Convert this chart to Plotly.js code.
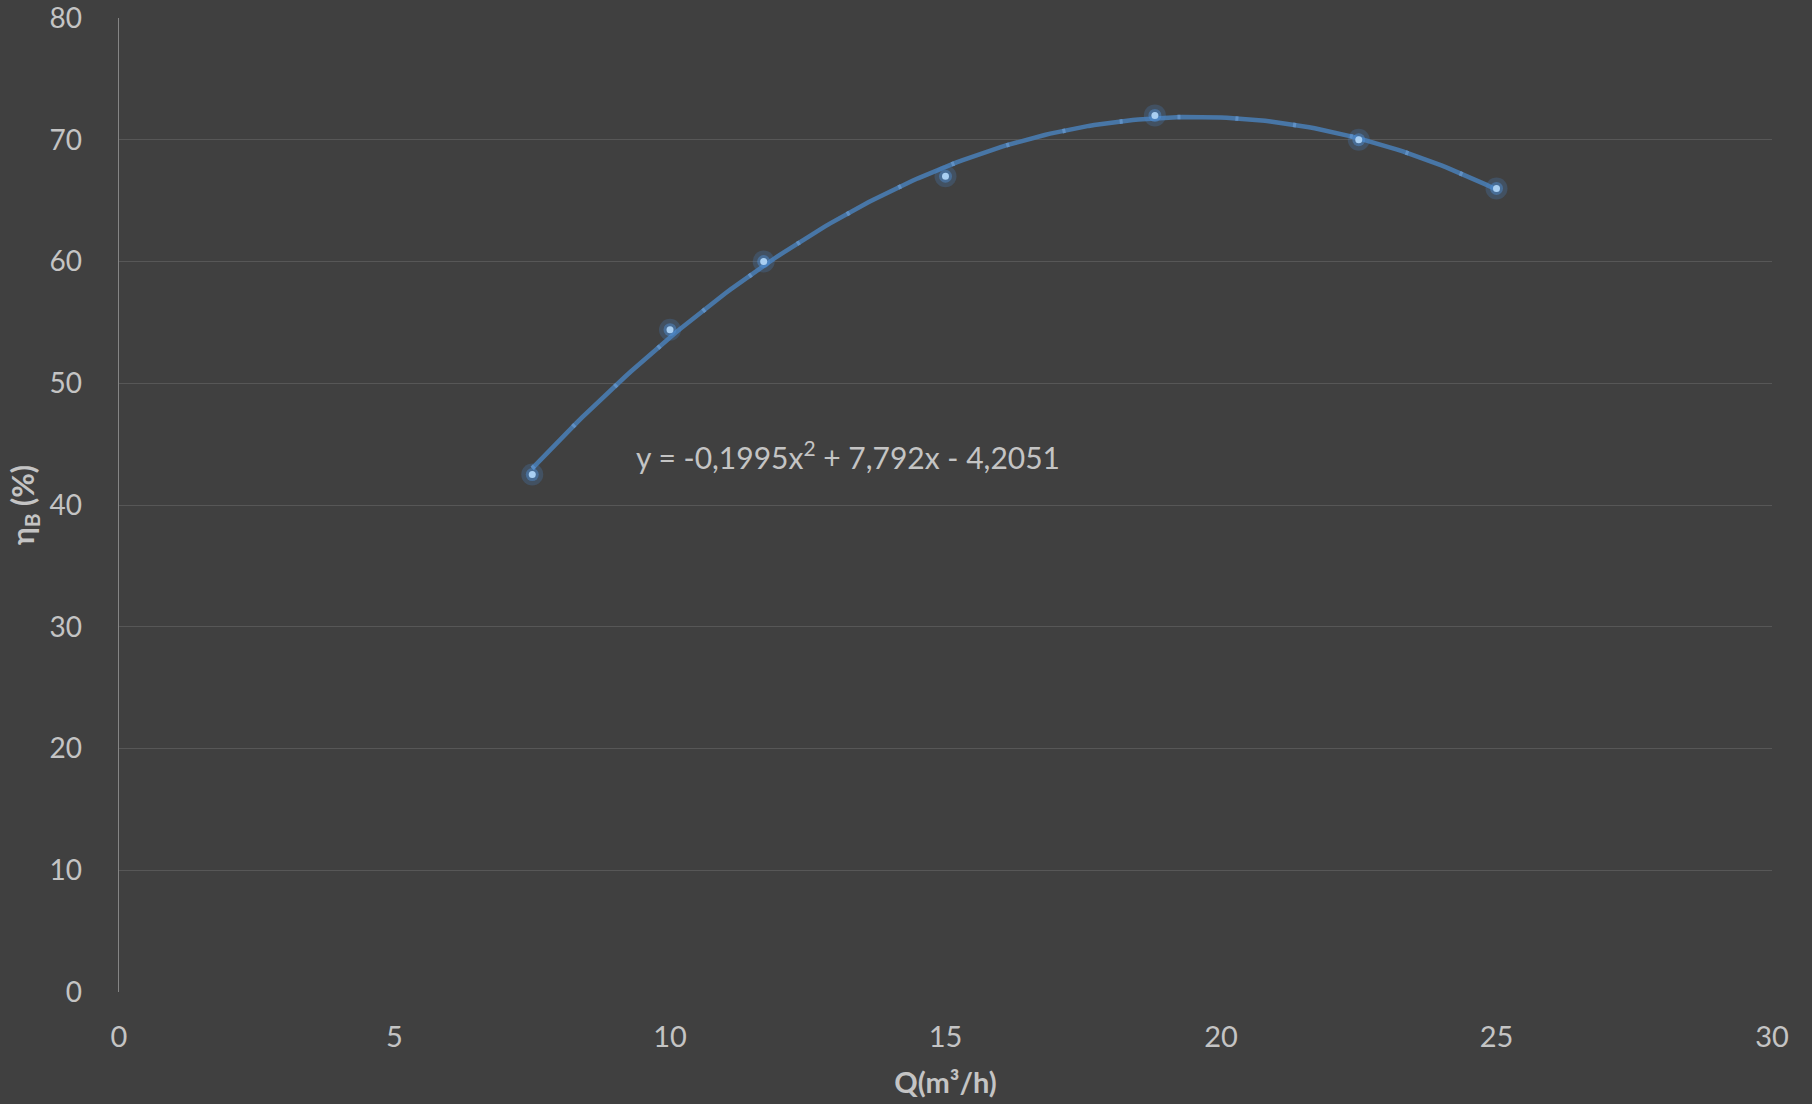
<!DOCTYPE html>
<html>
<head>
<meta charset="utf-8">
<script src="https://cdn.plot.ly/plotly-3.0.1.min.js"></script>
<style>html,body{margin:0;padding:0;background:#404040;}#chart{width:1812px;height:1104px;}</style>
</head>
<body>
<div id="chart"></div>
<script>
// Measured points
const flowQ = [7.5, 10, 11.7, 15, 18.8, 22.5, 25];
const efficiency = [42.5, 54.4, 60, 67, 72, 70, 66];
// Trendline coefficients shown on the chart: y = a x^2 + b x + c
const trendCoef = [-0.1995, 7.792, -4.2051];
const trendRange = [7.5, 25];
const equationText = 'y = -0,1995x<sup>2</sup> + 7,792x - 4,2051';
const xTicks = [0, 5, 10, 15, 20, 25, 30];
const yTicks = [0, 10, 20, 30, 40, 50, 60, 70, 80];

const tx = [], ty = [];
for (let i = 0; i <= 175; i++) {
  const x = trendRange[0] + (trendRange[1] - trendRange[0]) * i / 175;
  tx.push(x);
  ty.push(trendCoef[0] * x * x + trendCoef[1] * x + trendCoef[2]);
}

const font = "Lato, 'Open Sans', sans-serif";
const txt = '#c4c4c4';

const traces = [
  {x: tx, y: ty, mode: 'lines', line: {color: '#4876a6', width: 4.5}, hoverinfo: 'skip'},
  {x: tx, y: ty, mode: 'lines', line: {color: '#6090c4', width: 4.5, dash: '3px,55px'}, hoverinfo: 'skip'},
  {x: flowQ, y: efficiency, mode: 'markers', marker: {size: 22, color: 'rgba(70,130,200,0.25)'}, hoverinfo: 'skip'},
  {x: flowQ, y: efficiency, mode: 'markers', marker: {size: 13, color: 'rgba(80,145,215,0.45)'}, hoverinfo: 'skip'},
  {x: flowQ, y: efficiency, mode: 'markers', marker: {size: 7, color: '#a9cff2'}}
];

const layout = {
  width: 1812, height: 1104,
  paper_bgcolor: '#404040', plot_bgcolor: '#404040',
  margin: {l: 119, r: 40, t: 18, b: 112},
  showlegend: false,
  font: {family: font, color: txt, size: 29},
  xaxis: {
    range: [0, 30], tickvals: xTicks, ticktext: xTicks.map(String),
    showgrid: false, zeroline: false, showline: false, ticks: '',
    ticklabelstandoff: 25, ticklabeloverflow: 'allow',
    tickfont: {family: font, size: 29, color: txt},
    title: {text: '<b>Q(m³/h)</b>', font: {family: font, size: 29, color: txt}, standoff: 20}
  },
  yaxis: {
    range: [0, 80], tickvals: yTicks, ticktext: yTicks.map(String),
    showgrid: true, gridcolor: '#575757', gridwidth: 1,
    zeroline: false, showline: true, linecolor: '#858585', linewidth: 1.5, ticks: '',
    ticklabelstandoff: 30, ticklabeloverflow: 'allow',
    tickfont: {family: font, size: 28, color: txt},
    title: {text: '<b>η<sub>B</sub> (%)</b>', font: {family: font, size: 30, color: txt}, standoff: 6}
  },
  annotations: [
    {x: 7.5, y: 43, xref: 'x', yref: 'y', xanchor: 'left', yanchor: 'middle',
     xshift: 102, yshift: 13, text: equationText, showarrow: false,
     font: {family: font, size: 30, color: txt}},
    {x: 0, y: 0, xref: 'paper', yref: 'paper', text: '<b>17</b>', showarrow: false,
     font: {family: font, size: 30, color: '#ffffff'}}
  ]
};
// Position the page-number annotation in pixel terms relative to the paper
const plotW = 1812 - 119 - 40, plotH = 1104 - 18 - 112;
layout.annotations[1].x = (1747 - 119) / plotW;
layout.annotations[1].y = -(1099 - 992) / plotH;
layout.annotations[1].yanchor = 'top';

Plotly.newPlot('chart', traces, layout, {displayModeBar: false, staticPlot: true});
</script>
</body>
</html>
